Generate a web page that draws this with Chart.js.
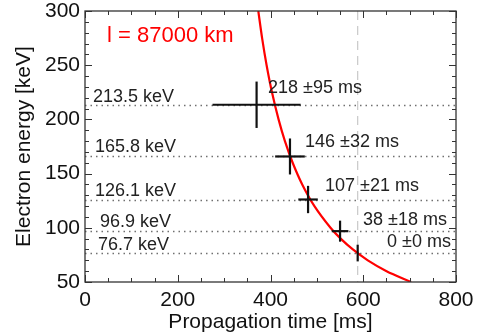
<!DOCTYPE html>
<html><head><meta charset="utf-8">
<script src="https://cdn.jsdelivr.net/npm/chart.js@4/dist/chart.umd.min.js"></script>
<style>html,body{margin:0;padding:0;background:#fff}</style>
</head><body>
<canvas id="c" width="478" height="335"></canvas>
<script>
// ---- data ----
const energies = [213.5, 165.8, 126.1, 96.9, 76.7];          // keV
const arrivalTimes = [370, 442, 481, 550, 588];              // ms
const delays = [218, 146, 107, 38, 0];                       // ms
const delayErrors = [95, 32, 21, 18, 0];                     // ms
const energyErrors = [21.4, 16.6, 12.6, 9.7, 7.7];           // keV
const referenceTime = 588;                                   // ms (dashed line)
const curveEnergy = [300, 275, 250, 225, 200, 180, 160, 140, 120, 100, 90, 80, 70, 60, 50];
const curveTime = [373.7, 381.9, 391.6, 403.2, 417.4, 431.1, 447.8, 468.4, 494.7, 529.4, 551.3, 577.6, 609.8, 650.3, 703.2];
const xTickValues = [0, 200, 400, 600, 800];
const yTickValues = [50, 100, 150, 200, 250, 300];
const pathLengthLabel = 'l = 87000 km';
const energyLabels = energies.map(e => e.toFixed(1) + ' keV');
const delayLabels = delays.map((d, i) => d + ' \u00B1' + delayErrors[i] + ' ms');

const FONT = "'Liberation Sans', Arial, Helvetica, sans-serif";

const overlay = {
  id: 'overlay',
  beforeDatasetsDraw(chart) {
    const {ctx, chartArea: a, scales: {x, y}} = chart;
    ctx.save();
    ctx.beginPath(); ctx.rect(a.left, a.top, a.right - a.left, a.bottom - a.top); ctx.clip();
    ctx.strokeStyle = '#c8c8c8'; ctx.lineWidth = 1.2; ctx.setLineDash([9, 6]);
    const rx = x.getPixelForValue(referenceTime);
    ctx.beginPath(); ctx.moveTo(rx, a.top); ctx.lineTo(rx, a.bottom); ctx.stroke();
    ctx.strokeStyle = '#707070'; ctx.lineWidth = 1.5; ctx.setLineDash([1.5, 4]);
    energies.forEach(e => {
      const py = Math.round(y.getPixelForValue(e)) + 0.5;
      ctx.beginPath(); ctx.moveTo(a.left, py); ctx.lineTo(a.right, py); ctx.stroke();
    });
    ctx.restore();
  },
  afterDatasetsDraw(chart) {
    const {ctx, chartArea: a, scales: {x, y}} = chart;
    ctx.save();
    ctx.strokeStyle = '#111'; ctx.lineWidth = 2.2; ctx.setLineDash([]);
    energies.forEach((e, i) => {
      const px = x.getPixelForValue(arrivalTimes[i]);
      const py = y.getPixelForValue(e);
      if (delayErrors[i] > 0) {
        ctx.beginPath();
        ctx.moveTo(x.getPixelForValue(arrivalTimes[i] - delayErrors[i]), py);
        ctx.lineTo(x.getPixelForValue(arrivalTimes[i] + delayErrors[i]), py);
        ctx.stroke();
      }
      ctx.beginPath();
      ctx.moveTo(px, y.getPixelForValue(e + energyErrors[i]));
      ctx.lineTo(px, y.getPixelForValue(e - energyErrors[i]));
      ctx.stroke();
    });
    ctx.fillStyle = '#222'; ctx.font = '18px ' + FONT; ctx.textBaseline = 'middle'; ctx.textAlign = 'left';
    const keVx = [93, 95, 95, 100, 98];
    const keVdy = [-8, -9, -8, -9, -8];
    energies.forEach((e, i) => {
      ctx.fillText(energyLabels[i], keVx[i], y.getPixelForValue(e) + keVdy[i]);
    });
    const dx = [268, 305, 325, 363, 387];
    const ddy = [-17, -14, -13, -11, -11];
    energies.forEach((e, i) => {
      ctx.fillText(delayLabels[i], dx[i], y.getPixelForValue(e) + ddy[i]);
    });
    ctx.fillStyle = '#ff0000'; ctx.font = '22px ' + FONT;
    ctx.fillText(pathLengthLabel, 107, 36);
    ctx.strokeStyle = '#333'; ctx.lineWidth = 1.3;
    ctx.strokeRect(a.left, a.top, a.right - a.left, a.bottom - a.top);
    ctx.lineWidth = 1;
    for (let v = x.min; v <= x.max + 1e-6; v += 50) {
      const px = Math.round(x.getPixelForValue(v)) + 0.5;
      const len = (v % 200 === 0) ? 7 : 4;
      ctx.beginPath();
      ctx.moveTo(px, a.bottom); ctx.lineTo(px, a.bottom - len);
      ctx.moveTo(px, a.top); ctx.lineTo(px, a.top + len);
      ctx.stroke();
    }
    for (let v = y.min; v <= y.max + 1e-6; v += 10) {
      const py = Math.round(y.getPixelForValue(v)) + 0.5;
      const len = (v % 50 === 0) ? 7 : 4;
      ctx.beginPath();
      ctx.moveTo(a.left, py); ctx.lineTo(a.left + len, py);
      ctx.moveTo(a.right, py); ctx.lineTo(a.right - len, py);
      ctx.stroke();
    }
    ctx.restore();
  }
};

new Chart(document.getElementById('c'), {
  type: 'scatter',
  data: {
    datasets: [{
      data: curveTime.map((t, i) => ({x: t, y: curveEnergy[i]})),
      showLine: true, borderColor: '#ff0000', borderWidth: 2.2,
      pointRadius: 0, tension: 0.3, fill: false
    }]
  },
  options: {
    responsive: false, animation: false,
    layout: {padding: {top: 11, right: 22, left: 0, bottom: 0}},
    plugins: {legend: {display: false}, tooltip: {enabled: false}},
    scales: {
      x: {
        type: 'linear', min: 0, max: 800,
        afterBuildTicks: s => { s.ticks = xTickValues.map(v => ({value: v})); },
        afterFit: s => { s.height = 53; s.paddingLeft = 0; s.paddingRight = 0; },
        grid: {display: false, drawTicks: false},
        border: {display: false},
        ticks: {color: '#111', font: {family: FONT, size: 21}, padding: 6, maxRotation: 0},
        title: {display: true, text: 'Propagation time [ms]', color: '#111',
                font: {family: FONT, size: 21}, padding: {top: 0, bottom: 0}}
      },
      y: {
        type: 'linear', min: 50, max: 300,
        afterBuildTicks: s => { s.ticks = yTickValues.map(v => ({value: v})); },
        afterFit: s => { s.width = 85; s.paddingTop = 0; s.paddingBottom = 0; },
        grid: {display: false, drawTicks: false},
        border: {display: false},
        ticks: {color: '#111', font: {family: FONT, size: 21}, padding: 5},
        title: {display: true, text: 'Electron energy [keV]', color: '#111',
                font: {family: FONT, size: 21}, padding: {top: 12, bottom: 0}}
      }
    }
  },
  plugins: [overlay]
});
</script>
</body></html>
